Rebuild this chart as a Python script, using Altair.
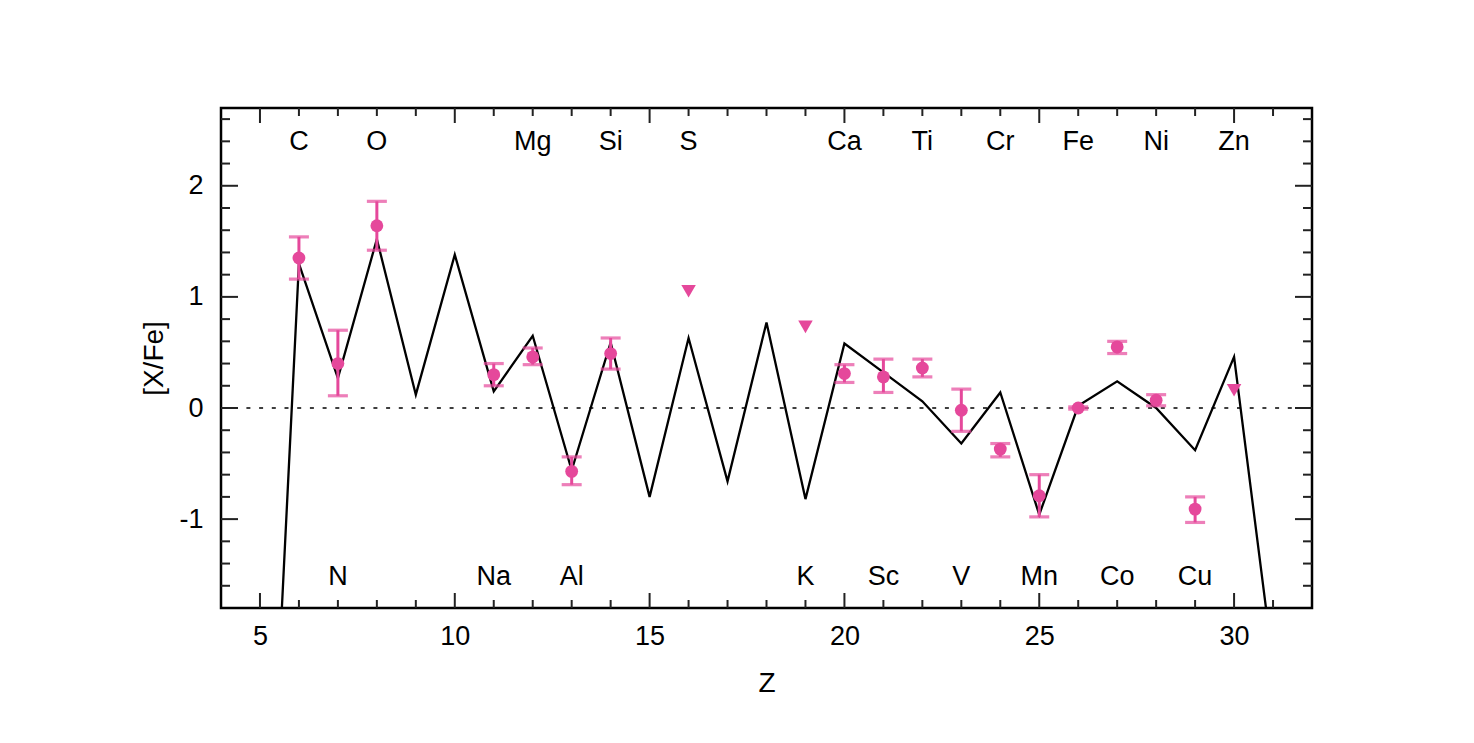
import altair as alt
import pandas as pd

# Model prediction (black line), by atomic number Z
model_z = [5, 6, 7, 8, 9, 10, 11, 12, 13, 14, 15, 16, 17, 18, 19, 20,
           21, 22, 23, 24, 25, 26, 27, 28, 29, 30, 31]
model_val = [-5.78, 1.30, 0.27, 1.52, 0.12, 1.38, 0.15, 0.65, -0.56, 0.59,
             -0.80, 0.63, -0.66, 0.77, -0.82, 0.58, 0.32, 0.06, -0.32, 0.14,
             -0.96, 0.02, 0.24, 0.00, -0.38, 0.46, -2.30]

# Observed abundances with error bars
obs_z = [6, 7, 8, 11, 12, 13, 14, 20, 21, 22, 23, 24, 25, 26, 27, 28, 29]
obs_val = [1.35, 0.40, 1.64, 0.30, 0.46, -0.57, 0.49, 0.31, 0.28, 0.36,
           -0.02, -0.37, -0.79, 0.00, 0.55, 0.07, -0.91]
obs_lo = [1.16, 0.11, 1.42, 0.20, 0.39, -0.69, 0.35, 0.23, 0.14, 0.28,
          -0.21, -0.44, -0.98, -0.01, 0.49, 0.02, -1.03]
obs_hi = [1.54, 0.70, 1.86, 0.40, 0.54, -0.44, 0.63, 0.39, 0.44, 0.44,
          0.17, -0.32, -0.60, 0.01, 0.60, 0.12, -0.80]

# Upper limits (downward triangles)
limit_z = [16, 19, 30]
limit_val = [1.05, 0.73, 0.16]

# Element labels
top_el = ["C", "O", "Mg", "Si", "S", "Ca", "Ti", "Cr", "Fe", "Ni", "Zn"]
top_z = [6, 8, 12, 14, 16, 20, 22, 24, 26, 28, 30]
bot_el = ["N", "Na", "Al", "K", "Sc", "V", "Mn", "Co", "Cu"]
bot_z = [7, 11, 13, 19, 21, 23, 25, 27, 29]

x_ticks_major = [5, 10, 15, 20, 25, 30]
x_ticks_minor = [z for z in range(5, 32) if z not in x_ticks_major]
y_ticks_major = [-1, 0, 1, 2]
y_ticks_minor = [round(-1.6 + 0.2 * i, 1) for i in range(22)]
y_ticks_minor = [v for v in y_ticks_minor if v not in y_ticks_major]

W, H = 1091, 500
PINK = "#e5489b"
FONT = "Liberation Sans"

xs = alt.Scale(domain=[4, 32], nice=False, zero=False)
ys = alt.Scale(domain=[-1.8, 2.7], nice=False, zero=False)

model_df = pd.DataFrame({"Z": model_z, "v": model_val})
obs_df = pd.DataFrame({"Z": obs_z, "v": obs_val, "lo": obs_lo, "hi": obs_hi})
lim_df = pd.DataFrame({"Z": limit_z, "v": limit_val})
lab_df = pd.DataFrame({
    "Z": top_z + bot_z,
    "el": top_el + bot_el,
    "row": ["top"] * len(top_z) + ["bottom"] * len(bot_z),
})

X = alt.X("Z:Q", scale=xs,
          axis=alt.Axis(values=x_ticks_major, title="Z", ticks=False, domain=False,
                        grid=False, labelPadding=15, titlePadding=20,
                        labelExpr="'' + datum.value"))
Y = alt.Y("v:Q", scale=ys,
          axis=alt.Axis(values=y_ticks_major, title="[X/Fe]", ticks=False, domain=False,
                        grid=False, labelPadding=18, titlePadding=10,
                        labelExpr="'' + datum.value"))

zero_line = alt.Chart(pd.DataFrame({"v": [0]})).mark_rule(
    color="black", strokeWidth=1.5, strokeDash=[4, 8.7]
).encode(y=alt.Y("v:Q", scale=ys), x=alt.value(0), x2=alt.value(W))

line = alt.Chart(model_df).mark_line(color="black", strokeWidth=2.3, clip=True).encode(
    x=X, y=Y
)

err = alt.Chart(obs_df).mark_rule(color=PINK, strokeWidth=3).encode(
    x=alt.X("Z:Q", scale=xs), y=alt.Y("lo:Q", scale=ys), y2="hi:Q"
)
cap_lo = alt.Chart(obs_df).mark_tick(color=PINK, orient="horizontal", size=20,
                                      thickness=3.2).encode(
    x=alt.X("Z:Q", scale=xs), y=alt.Y("lo:Q", scale=ys)
)
cap_hi = alt.Chart(obs_df).mark_tick(color=PINK, orient="horizontal", size=20,
                                      thickness=3.2).encode(
    x=alt.X("Z:Q", scale=xs), y=alt.Y("hi:Q", scale=ys)
)
pts = alt.Chart(obs_df).mark_point(shape="circle", filled=True, color=PINK, size=165,
                                   opacity=1).encode(
    x=alt.X("Z:Q", scale=xs), y=alt.Y("v:Q", scale=ys)
)
lims = alt.Chart(lim_df).mark_point(shape="triangle-down", filled=True, color=PINK,
                                    size=210, opacity=1).encode(
    x=alt.X("Z:Q", scale=xs), y=alt.Y("v:Q", scale=ys)
)

labels = alt.Chart(lab_df).transform_calculate(
    ly="datum.row == 'top' ? 2.39 : -1.52"
).mark_text(font=FONT, fontSize=27, color="black", baseline="middle", align="center").encode(
    x=alt.X("Z:Q", scale=xs), y=alt.Y("ly:Q", scale=ys), text="el:N"
)

# inward ticks on all four sides
def xt(vals, L):
    d = pd.DataFrame({"Z": vals})
    b = alt.Chart(d).mark_rule(color="#222", strokeWidth=2).encode(
        x=alt.X("Z:Q", scale=xs), y=alt.value(H), y2=alt.value(H - L))
    t = alt.Chart(d).mark_rule(color="#222", strokeWidth=2).encode(
        x=alt.X("Z:Q", scale=xs), y=alt.value(0), y2=alt.value(L))
    return b + t

def yt(vals, L):
    d = pd.DataFrame({"v": vals})
    l = alt.Chart(d).mark_rule(color="#222", strokeWidth=2).encode(
        y=alt.Y("v:Q", scale=ys), x=alt.value(0), x2=alt.value(L))
    r = alt.Chart(d).mark_rule(color="#222", strokeWidth=2).encode(
        y=alt.Y("v:Q", scale=ys), x=alt.value(W), x2=alt.value(W - L))
    return l + r

chart = alt.layer(
    zero_line, line, err, cap_lo, cap_hi, pts, lims, labels,
    xt(x_ticks_major, 15), xt(x_ticks_minor, 8),
    yt(y_ticks_major, 17), yt(y_ticks_minor, 9),
).properties(
    width=W, height=H,
    autosize=alt.AutoSizeParams(type="none"),
    padding={"left": 221, "top": 108, "right": 162, "bottom": 135},
    background="white",
).configure_view(
    stroke="black", strokeWidth=2.5
).configure_axis(
    labelFont=FONT, titleFont=FONT, labelFontSize=27, titleFontSize=28,
    labelColor="black", titleColor="black", titleFontWeight="normal"
)

chart.save("out.html", embed_options={"renderer": "svg", "actions": False})
